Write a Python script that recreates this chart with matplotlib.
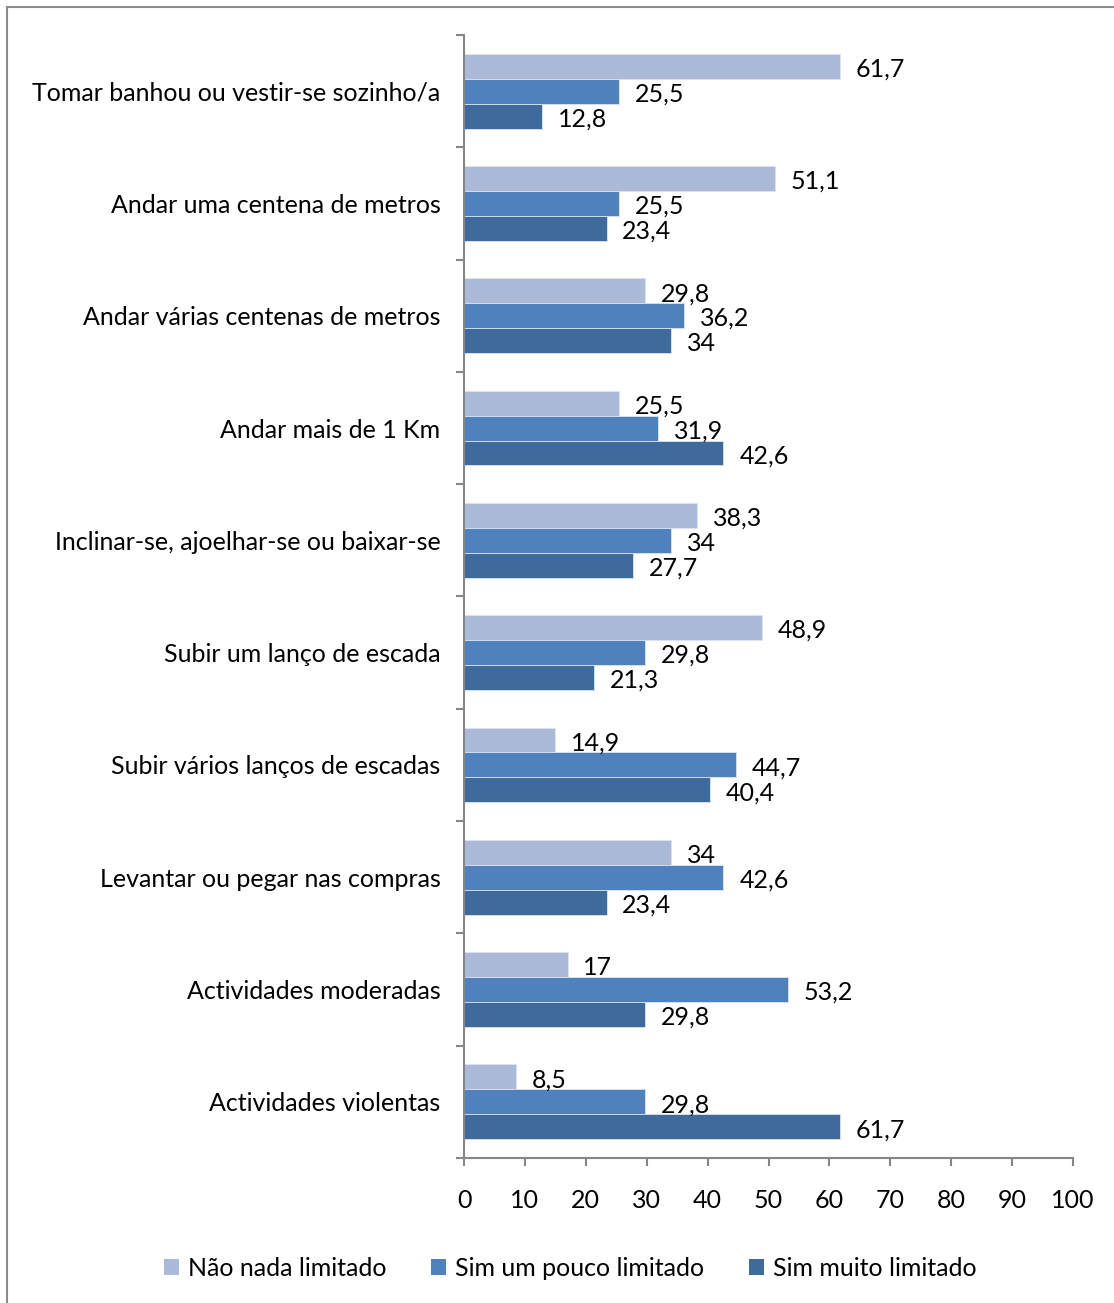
import numpy as np
import matplotlib.pyplot as plt
from matplotlib.patches import Rectangle
from matplotlib import font_manager

# category labels, top to bottom
categories = [
    "Tomar banhou ou vestir-se sozinho/a",
    "Andar uma centena de metros",
    "Andar várias centenas de metros",
    "Andar mais de 1 Km",
    "Inclinar-se, ajoelhar-se ou baixar-se",
    "Subir um lanço de escada",
    "Subir vários lanços de escadas",
    "Levantar ou pegar nas compras",
    "Actividades moderadas",
    "Actividades violentas",
]

nao_nada = [61.7, 51.1, 29.8, 25.5, 38.3, 48.9, 14.9, 34, 17, 8.5]
sim_pouco = [25.5, 25.5, 36.2, 31.9, 34, 29.8, 44.7, 42.6, 53.2, 29.8]
sim_muito = [12.8, 23.4, 34, 42.6, 27.7, 21.3, 40.4, 23.4, 29.8, 61.7]

series_names = ["Não nada limitado", "Sim um pouco limitado", "Sim muito limitado"]
colors = ["#AABAD8", "#4F81BD", "#3F6A9C"]

xticks = list(range(0, 101, 10))


def fmt(v):
    s = f"{v:g}"
    return s.replace(".", ",")


def main():
    installed = {f.name for f in font_manager.fontManager.ttflist}
    fam = ["Liberation Sans Narrow"] if "Liberation Sans Narrow" in installed else ["Lato"]
    plt.rcParams["font.family"] = fam + ["DejaVu Sans"]
    fs = 18

    fig = plt.figure(figsize=(11.14, 13.03), dpi=100)
    ax = fig.add_axes([464 / 1114, 1 - 1158 / 1303, (1073 - 464) / 1114, (1158 - 35) / 1303])

    n = len(categories)
    centers = np.arange(n)[::-1].astype(float)
    bh = 0.222
    all_series = [nao_nada, sim_pouco, sim_muito]
    for i, (vals, name, c) in enumerate(zip(all_series, series_names, colors)):
        ypos = centers + bh * (1 - i)
        ax.barh(ypos, vals, height=bh, color=c, edgecolor="#DCE4F0", linewidth=0.6, label=name)
        for y, v in zip(ypos, vals):
            ax.text(v + 2.6, y - 0.025, fmt(v), va="center", ha="left", fontsize=fs, color="black")

    ax.set_xlim(0, 100)
    ax.set_ylim(-0.5, n - 0.5)
    ax.set_xticks(xticks)
    ax.set_xticklabels([str(t) for t in xticks], fontsize=fs)
    ax.set_yticks(centers)
    ax.set_yticklabels(categories, fontsize=fs)
    ax.set_yticks(np.arange(n + 1) - 0.5, minor=True)

    for side in ["top", "right"]:
        ax.spines[side].set_visible(False)
    for side in ["left", "bottom"]:
        ax.spines[side].set_color("#868686")
        ax.spines[side].set_linewidth(1.5)
    ax.tick_params(axis="y", which="major", length=0, pad=17)
    ax.tick_params(axis="y", which="minor", length=6, width=1.5, color="#868686")
    ax.tick_params(axis="x", length=6, width=1.5, color="#868686", pad=16)

    leg = fig.legend(loc="center", bbox_to_anchor=(570 / 1114, 1 - 1268 / 1303), ncol=3,
                     frameon=False, fontsize=fs, handlelength=0.6, handleheight=0.6,
                     handletextpad=0.35, columnspacing=1.8)
    for h in leg.legend_handles:
        h.set_edgecolor("none")

    # outer chart border
    fig.patches.append(Rectangle((7 / 1114, -0.1), 2.0, 1.1 - 7 / 1303, transform=fig.transFigure,
                                 fill=False, edgecolor="#8C8C8C", linewidth=1.5))

    fig.savefig("out.png", dpi=100)


if __name__ == "__main__":
    main()
